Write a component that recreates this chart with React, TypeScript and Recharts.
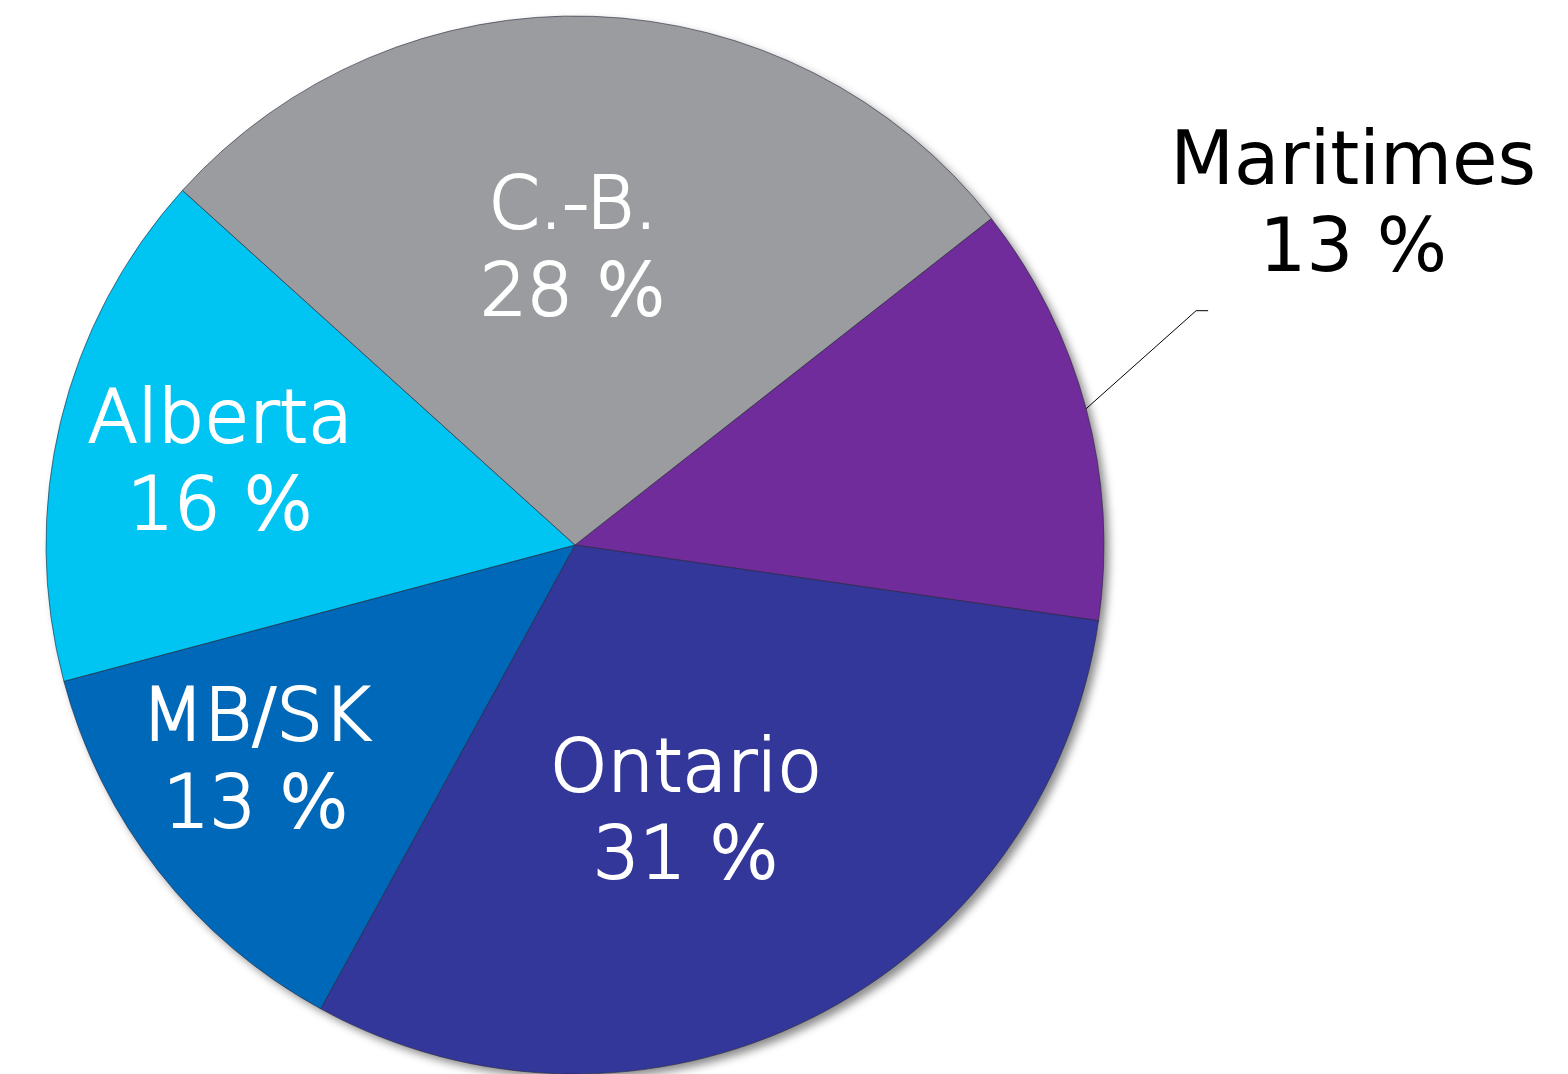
import { PieChart, Pie, Cell } from "recharts";

// shares by region (%)
const REGIONS = ["Maritimes", "Ontario", "MB/SK", "Alberta", "C.-B."];
const SHARES = [13, 31, 13, 16, 28];
const COLORS = ["#6f2c9a", "#33379a", "#0068b8", "#00c4f2", "#9a9c9f"];

const data = REGIONS.map((name, i) => ({ name, value: SHARES[i] }));

// label placement inside slices: radius (px) and small angle nudge (deg)
const LABEL_R: Record<string, [number, number]> = {
  "C.-B.": [300, 2.4],
  Alberta: [365, 0],
  "MB/SK": [383, -4.5],
  Ontario: [285, -3.6],
};

const RAD = Math.PI / 180;
const FONT = "'DejaVu Sans', 'Open Sans', sans-serif";

function renderLabel(props: any) {
  const { cx, cy, midAngle, outerRadius, index } = props;
  const name = REGIONS[index];
  const pct = `${SHARES[index]} %`;

  if (name === "Maritimes") {
    // outside label with leader line
    const sx = cx + outerRadius * Math.cos(-midAngle * RAD);
    const sy = cy + outerRadius * Math.sin(-midAngle * RAD);
    const ex = sx + 110;
    const ey = sy - 98;
    const tx = ex + 157;
    return (
      <g>
        <polyline points={`${sx},${sy} ${ex},${ey} ${ex + 12},${ey}`} fill="none" stroke="#000" strokeWidth={1} />
        <text x={tx} y={ey - 127} textAnchor="middle" fill="#000" fontFamily={FONT} fontSize={74} fontWeight={400}>
          {name}
        </text>
        <text x={tx} y={ey - 40} textAnchor="middle" fill="#000" fontFamily={FONT} fontSize={74} fontWeight={400}>
          {pct}
        </text>
      </g>
    );
  }

  const [r, nudge] = LABEL_R[name];
  const a = (midAngle + nudge) * RAD;
  const x = cx + r * Math.cos(-a);
  const y = cy + r * Math.sin(-a);
  const txt = {
    textAnchor: "middle" as const,
    fill: "#fff",
    stroke: "#fff",
    strokeWidth: 2.2,
    fontFamily: FONT,
    fontSize: 73,
    fontWeight: 300,
  };
  return (
    <g>
      <text x={x} y={y - 17} {...txt}>
        {name}
      </text>
      <text x={x} y={y + 70} {...txt}>
        {pct}
      </text>
    </g>
  );
}

export default function App() {
  return (
    <div style={{ position: "absolute", left: 0, top: 0, width: 1568, height: 1074, background: "#fff" }}>
      <PieChart width={1568} height={1074} margin={{ top: 0, right: 0, bottom: 0, left: 0 }}>
        <defs>
          <filter id="pieShadow" x="-20%" y="-20%" width="140%" height="140%">
            <feGaussianBlur stdDeviation="4" />
          </filter>
        </defs>
        {/* soft shadow under the pie */}
        <Pie
          data={data}
          dataKey="value"
          cx={580}
          cy={550}
          outerRadius={529}
          startAngle={38.1}
          endAngle={38.1 - 360}
          stroke="none"
          isAnimationActive={false}
        >
          {data.map((d) => (
            <Cell key={d.name} fill="rgba(0,0,0,0.45)" filter="url(#pieShadow)" />
          ))}
        </Pie>
        <Pie
          data={data}
          dataKey="value"
          cx={575}
          cy={545}
          outerRadius={529}
          startAngle={38.1}
          endAngle={38.1 - 360}
          stroke="rgba(40,40,60,0.6)"
          strokeWidth={1}
          label={renderLabel}
          labelLine={false}
          isAnimationActive={false}
        >
          {data.map((d, i) => (
            <Cell key={d.name} fill={COLORS[i]} />
          ))}
        </Pie>
      </PieChart>
    </div>
  );
}
